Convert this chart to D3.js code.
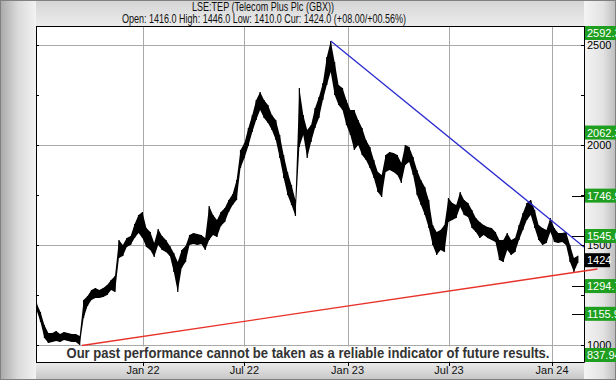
<!DOCTYPE html>
<html><head><meta charset="utf-8">
<script src="https://cdn.jsdelivr.net/npm/d3@7"></script>
<style>html,body{margin:0;padding:0;background:#fff}svg{display:block}</style>
</head><body>
<script>
const title = "LSE:TEP (Telecom Plus Plc (GBX))";
const subtitle = "Open: 1416.0 High: 1446.0 Low: 1410.0 Cur: 1424.0 (+08.00/+00.56%)";
const disclaimer = "Our past performance cannot be taken as a reliable indicator of future results.";
const firstWeek = "2021-06-25";
const highs = [1210,1165,1100,1060,1060,1070,1055,1065,1060,1055,1055,1045,1225,1245,1275,1285,1275,1285,1300,1325,
1345,1525,1500,1535,1545,1605,1650,1665,1585,1565,1510,1580,1545,1525,1495,1460,1415,1475,1495,1550,
1560,1555,1550,1535,1695,1650,1625,1665,1685,1725,1755,1825,1975,2010,2085,2150,2225,2265,2225,2200,
2150,2125,2050,1950,1865,1800,1725,2285,2150,2075,2100,2185,2240,2310,2440,2520,2415,2300,2285,2225,
2175,2175,2125,2085,2025,1990,1925,1865,1850,1950,1965,1960,1950,1910,2000,1990,1940,1875,1825,1790,
1725,1600,1565,1575,1600,1735,1710,1700,1765,1725,1710,1675,1635,1615,1600,1590,1585,1565,1525,1525,
1560,1525,1535,1600,1660,1710,1725,1675,1600,1585,1575,1635,1585,1560,1560,1565,1500,1435,1446];
const lows = [1175,1115,1035,1010,1015,1020,1015,1025,1020,1015,1015,1000,1135,1195,1225,1235,1235,1240,1250,1275,
1265,1435,1445,1490,1500,1535,1560,1535,1490,1475,1440,1500,1475,1465,1445,1365,1265,1385,1415,1500,
1505,1500,1505,1475,1525,1550,1540,1595,1615,1665,1700,1725,1885,1935,1995,2065,2125,2175,2135,2110,
2075,2025,1935,1835,1750,1700,1645,1990,2050,1935,2015,2085,2135,2225,2300,2365,2250,2200,2175,2100,
2050,1975,2000,1950,1925,1885,1835,1765,1740,1865,1875,1865,1850,1810,1900,1915,1850,1750,1700,1650,
1585,1500,1450,1475,1465,1615,1625,1635,1690,1650,1640,1585,1565,1535,1550,1535,1525,1515,1425,1415,
1475,1450,1465,1525,1575,1625,1650,1585,1525,1500,1510,1565,1515,1510,1515,1500,1415,1365,1410];
const yTicks = [1000,1500,2000,2500];
const yMinor = [1250,1750,2250];
const xTickDates = ["2022-01-01","2022-07-01","2023-01-01","2023-07-01","2024-01-01"];
const levelValues = [2592.3,2062.3,1746.9,1545.0,1294.7,1155.9,837.94];
const levelLabels = ["2592.3","2062.3","1746.9","1545.0","1294.7","1155.9","837.94"];
const currentValue = 1424;
const currentLabel = "1424";
const blueTrend = [["2022-12-02",2520],["2024-02-27",1490]];
const redTrend = [["2021-09-14",997.5],["2024-03-22",1380]];

const W=616,H=380, L=36, R=584, T=26, B=362;
const parse = d3.timeParse("%Y-%m-%d");
const start = parse(firstWeek);
const data = highs.map((h,i)=>({date:d3.timeDay.offset(start,7*i), high:h, low:lows[i]}));

const x = d3.scaleTime().domain([new Date(2021,5,24), new Date(2024,1,27)]).range([L,R]);
const y = d3.scaleLinear().domain([1000,2500]).range([345,45]);

const svg = d3.select("body").append("svg").attr("width",W).attr("height",H);
const defs = svg.append("defs");
function grad(id,x1,y1,x2,y2,stops){const g=defs.append("linearGradient").attr("id",id).attr("x1",x1).attr("y1",y1).attr("x2",x2).attr("y2",y2);
 stops.forEach(s=>g.append("stop").attr("offset",s[0]).attr("stop-color",s[1]));}
grad("gl","0","0","1","0",[[0,"#a8a8a8"],[0.5,"#dadada"],[1,"#f2f2f2"]]);
grad("gr","0","0","1","0",[[0,"#f4f4f4"],[0.6,"#e2e2e2"],[1,"#bcbcbc"]]);
grad("gb","0","0","0","1",[[0,"#ececec"],[1,"#c6c6c6"]]);
grad("gt","0","0","0","1",[[0,"#d4d4d4"],[1,"#ececec"]]);

svg.append("rect").attr("width",W).attr("height",H).attr("fill","#e6e6e6");
svg.append("rect").attr("x",0).attr("y",0).attr("width",W).attr("height",T).attr("fill","url(#gt)");
svg.append("rect").attr("x",0).attr("y",B).attr("width",W).attr("height",H-B).attr("fill","url(#gb)");
svg.append("rect").attr("x",0).attr("y",0).attr("width",L).attr("height",H).attr("fill","url(#gl)");
svg.append("rect").attr("x",R).attr("y",0).attr("width",W-R).attr("height",H).attr("fill","url(#gr)");
svg.append("rect").attr("x",0.5).attr("y",0.5).attr("width",W-1).attr("height",H-1).attr("fill","none").attr("stroke","#808080");

// plot area
svg.append("rect").attr("x",L).attr("y",T).attr("width",R-L).attr("height",B-T).attr("fill","#fff");
defs.append("clipPath").attr("id","clip").append("rect").attr("x",L).attr("y",T).attr("width",R-L).attr("height",B-T);

// gridlines
const grid = svg.append("g").attr("stroke","#a9a9a9").attr("stroke-width",1);
xTickDates.forEach(d=>{const xx=Math.round(x(parse(d)))+0.5;
 grid.append("line").attr("x1",xx).attr("x2",xx).attr("y1",T).attr("y2",B);});
yTicks.forEach(v=>{const yy=Math.round(y(v))+0.5;
 grid.append("line").attr("x1",L).attr("x2",R).attr("y1",yy).attr("y2",yy);});

// disclaimer box
const font = "'Liberation Sans', Arial, sans-serif";
const narrow = "'Liberation Sans Narrow', 'Liberation Sans', Arial, sans-serif";
svg.append("rect").attr("x",66).attr("y",Math.round(y(1000))+1.5).attr("width",485).attr("height",B-Math.round(y(1000))-2).attr("fill","#fff");

// trend lines
const gp = svg.append("g").attr("clip-path","url(#clip)");
const tl = d3.line().x(d=>x(parse(d[0]))).y(d=>y(d[1]));

// price band
const area = d3.area().x(d=>x(d.date)).y0(d=>y(d.low)).y1(d=>y(d.high));
gp.append("path").attr("d",area(data)).attr("fill","#000");
gp.selectAll("line.bar").data(data).join("line").attr("class","bar")
 .attr("x1",d=>x(d.date)).attr("x2",d=>x(d.date)).attr("y1",d=>y(d.high)).attr("y2",d=>y(d.low))
 .attr("stroke","#000").attr("stroke-width",1.2);
gp.append("path").attr("d",tl(blueTrend)).attr("stroke","#2a2ad0").attr("stroke-width",1.3).attr("fill","none");

svg.append("text").attr("x",308).attr("y",358).attr("text-anchor","middle")
 .attr("font-family",narrow).attr("font-weight","bold").attr("font-size",15)
 .attr("fill","#333").attr("textLength",483).attr("lengthAdjust","spacingAndGlyphs").text(disclaimer);

// frame
const fr = svg.append("g").attr("stroke","#000").attr("stroke-width",1).attr("fill","none");
fr.append("line").attr("x1",L+0.5).attr("x2",L+0.5).attr("y1",T).attr("y2",B+0.5);
fr.append("line").attr("x1",L).attr("x2",R+0.5).attr("y1",B+0.5).attr("y2",B+0.5);
fr.append("line").attr("x1",R+0.5).attr("x2",R+0.5).attr("y1",T).attr("y2",B+0.5);
fr.append("line").attr("x1",L).attr("x2",R+0.5).attr("y1",T+0.5).attr("y2",T+0.5);
yTicks.concat(yMinor).forEach(v=>{const yy=Math.round(y(v))+0.5;
 fr.append("line").attr("x1",L).attr("x2",L+3).attr("y1",yy).attr("y2",yy);
 fr.append("line").attr("x1",R-3).attr("x2",R).attr("y1",yy).attr("y2",yy);});
xTickDates.forEach(d=>{const xx=Math.round(x(parse(d)))+0.5;
 fr.append("line").attr("x1",xx).attr("x2",xx).attr("y1",B).attr("y2",B+4);});
levelValues.forEach(v=>{ if(v>=915&&v<=2550&&v!==2062.3){const yy=Math.round(y(v))+0.5;
 fr.append("line").attr("x1",R-12).attr("x2",R).attr("y1",yy).attr("y2",yy);}});

// red support line (runs slightly into the right panel)
svg.append("path").attr("d",tl(redTrend)).attr("stroke","#e8322a").attr("stroke-width",1.3).attr("fill","none");

// x labels
const fmt = d3.timeFormat("%b %y");
svg.append("g").selectAll("text").data(xTickDates).join("text")
 .attr("x",d=>x(parse(d))).attr("y",374).attr("text-anchor","middle")
 .attr("font-family",font).attr("font-size",11).attr("fill","#111").text(d=>fmt(parse(d)));

// right axis labels
svg.append("g").selectAll("text").data(yTicks).join("text")
 .attr("x",587).attr("y",d=>y(d)+4).attr("font-family",font).attr("font-size",11).attr("fill","#000").text(d=>d);

// level labels
const lv = svg.append("g");
levelValues.forEach((v,i)=>{
 const cy = Math.max(T+7, Math.min(B-7, y(v)));
 lv.append("rect").attr("x",585).attr("y",cy-7).attr("width",31).attr("height",14).attr("fill","#1f9f1f");
 lv.append("text").attr("x",587).attr("y",cy+4).attr("font-family",font).attr("font-size",11).attr("fill","#fff").text(levelLabels[i]);
});
const cyc = y(currentValue);
lv.append("rect").attr("x",585).attr("y",cyc-7).attr("width",25).attr("height",14).attr("fill","#000");
lv.append("text").attr("x",587).attr("y",cyc+4).attr("font-family",font).attr("font-size",11).attr("fill","#fff").text(currentLabel);

// titles
svg.append("text").attr("x",263).attr("y",11).attr("text-anchor","middle").attr("font-family",narrow)
 .attr("font-size",12).attr("fill","#111").attr("textLength",142).attr("lengthAdjust","spacingAndGlyphs").text(title);
svg.append("text").attr("x",264).attr("y",23).attr("text-anchor","middle").attr("font-family",narrow)
 .attr("font-size",12).attr("fill","#111").attr("textLength",284).attr("lengthAdjust","spacingAndGlyphs").text(subtitle);
</script>
</body></html>
